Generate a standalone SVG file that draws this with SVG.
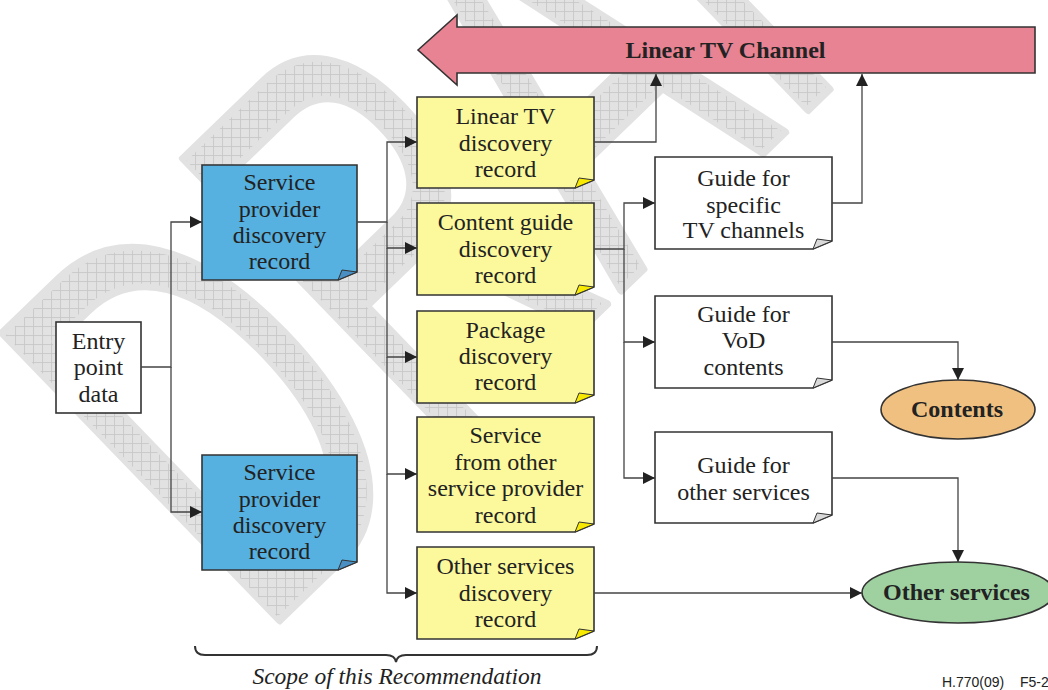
<svg xmlns="http://www.w3.org/2000/svg" width="1048" height="690" viewBox="0 0 1048 690">
<style>
.box{stroke:#333;stroke-width:1.6}
.blue{fill:#56b1e0}
.yel{fill:#fcf99c}
.wht{fill:#fff}
.fb{fill:#4a8fc4;stroke:#333;stroke-width:1}
.fy{fill:#f7ea00;stroke:#333;stroke-width:1}
.fw{fill:#d9d9d9;stroke:#333;stroke-width:1}
.t{font-family:"Liberation Serif","Times New Roman",Times,serif;font-size:24px;fill:#222;text-anchor:middle}
.b{font-weight:bold}
.c{fill:none;stroke:#444;stroke-width:1.3}
</style>
<defs>
<marker id="ah" viewBox="0 0 12 12" refX="12" refY="6" markerWidth="12" markerHeight="12" markerUnits="userSpaceOnUse" orient="auto">
<path d="M0,0 L12,6 L0,12 Z" fill="#222"/>
</marker>
<pattern id="hatch" width="9" height="9" patternUnits="userSpaceOnUse" patternTransform="scale(1.6667 1) rotate(44)">
<rect width="9" height="9" fill="#e2e2e2"/>
<path d="M0,0.5 H9 M0.5,0 V9" stroke="#c6c6c6" stroke-width="0.8"/>
</pattern>
</defs>
<rect width="1048" height="690" fill="#fff"/>
<g id="watermark">
<text transform="translate(258,641) rotate(-44) scale(0.6,1)" font-family="Liberation Sans, Arial, sans-serif" font-size="580" fill="url(#hatch)" stroke="#e2e2e2" stroke-width="8" stroke-linejoin="round">DRAFT</text>
</g>
<g id="linear-tv-channel">
<polygon points="418,50 457,15 457,27 1035,27 1035,73 457,73 457,85" fill="#e88393" stroke="#333" stroke-width="1.6"/>
<text class="t b" x="725.5" y="58">Linear TV Channel</text>
</g>
<g id="entry-point">
<rect class="box wht" x="56" y="322" width="85" height="91"/>
<text class="t" x="98.5" y="349">Entry</text>
<text class="t" x="98.5" y="375">point</text>
<text class="t" x="98.5" y="402">data</text>
</g>
<g id="sp-record-1">
<path class="box blue" d="M202,165 H357 V272 L338,280 H202 Z"/>
<path class="fb" d="M338,280 L342,270 L357,272 Z"/>
<text class="t" x="279.5" y="190">Service</text>
<text class="t" x="279.5" y="217">provider</text>
<text class="t" x="279.5" y="243">discovery</text>
<text class="t" x="279.5" y="269">record</text>
</g>
<g id="sp-record-2">
<path class="box blue" d="M202,455 H357 V562 L338,570 H202 Z"/>
<path class="fb" d="M338,570 L342,560 L357,562 Z"/>
<text class="t" x="279.5" y="480">Service</text>
<text class="t" x="279.5" y="507">provider</text>
<text class="t" x="279.5" y="533">discovery</text>
<text class="t" x="279.5" y="559">record</text>
</g>
<g id="linear-tv-record">
<path class="box yel" d="M417,97 H594 V180 L575,188 H417 Z"/>
<path class="fy" d="M575,188 L579,178 L594,180 Z"/>
<text class="t" x="505.5" y="124">Linear TV</text>
<text class="t" x="505.5" y="151">discovery</text>
<text class="t" x="505.5" y="177">record</text>
</g>
<g id="content-guide-record">
<path class="box yel" d="M417,203 H594 V287 L575,295 H417 Z"/>
<path class="fy" d="M575,295 L579,285 L594,287 Z"/>
<text class="t" x="505.5" y="230">Content guide</text>
<text class="t" x="505.5" y="257">discovery</text>
<text class="t" x="505.5" y="283">record</text>
</g>
<g id="package-record">
<path class="box yel" d="M417,311 H594 V395 L575,403 H417 Z"/>
<path class="fy" d="M575,403 L579,393 L594,395 Z"/>
<text class="t" x="505.5" y="338">Package</text>
<text class="t" x="505.5" y="364">discovery</text>
<text class="t" x="505.5" y="390">record</text>
</g>
<g id="other-sp-record">
<path class="box yel" d="M417,417 H594 V524 L575,532 H417 Z"/>
<path class="fy" d="M575,532 L579,522 L594,524 Z"/>
<text class="t" x="505.5" y="443">Service</text>
<text class="t" x="505.5" y="470">from other</text>
<text class="t" x="505.5" y="496">service provider</text>
<text class="t" x="505.5" y="523">record</text>
</g>
<g id="other-services-record">
<path class="box yel" d="M417,547 H594 V631 L575,639 H417 Z"/>
<path class="fy" d="M575,639 L579,629 L594,631 Z"/>
<text class="t" x="505.5" y="574">Other services</text>
<text class="t" x="505.5" y="601">discovery</text>
<text class="t" x="505.5" y="627">record</text>
</g>
<g id="guide-tv">
<path class="box wht" d="M655,157 H832 V241 L813,249 H655 Z"/>
<path class="fw" d="M813,249 L817,239 L832,241 Z"/>
<text class="t" x="743.5" y="186">Guide for</text>
<text class="t" x="743.5" y="213">specific</text>
<text class="t" x="743.5" y="238">TV channels</text>
</g>
<g id="guide-vod">
<path class="box wht" d="M655,296 H832 V380 L813,388 H655 Z"/>
<path class="fw" d="M813,388 L817,378 L832,380 Z"/>
<text class="t" x="743.5" y="322">Guide for</text>
<text class="t" x="743.5" y="348">VoD</text>
<text class="t" x="743.5" y="375">contents</text>
</g>
<g id="guide-other">
<path class="box wht" d="M655,432 H832 V515 L813,523 H655 Z"/>
<path class="fw" d="M813,523 L817,513 L832,515 Z"/>
<text class="t" x="743.5" y="473">Guide for</text>
<text class="t" x="743.5" y="500">other services</text>
</g>
<g id="contents">
<ellipse cx="958" cy="409.5" rx="77" ry="29.5" fill="#f0c080" stroke="#333" stroke-width="1.6"/>
<text class="t b" x="957" y="417">Contents</text>
</g>
<g id="other-services">
<ellipse cx="958" cy="592.5" rx="96" ry="30.5" fill="#9ed0a0" stroke="#333" stroke-width="1.6"/>
<text class="t b" x="956.5" y="600">Other services</text>
</g>
<g id="connectors">
<path class="c" d="M141,367 H171 V222 H202" marker-end="url(#ah)"/>
<path class="c" d="M171,367 V512 H202" marker-end="url(#ah)"/>
<path class="c" d="M357,222 H387 V142 H417" marker-end="url(#ah)"/>
<path class="c" d="M387,222 V248 H417" marker-end="url(#ah)"/>
<path class="c" d="M387,248 V357 H417" marker-end="url(#ah)"/>
<path class="c" d="M387,357 V474 H417" marker-end="url(#ah)"/>
<path class="c" d="M387,474 V593 H417" marker-end="url(#ah)"/>
<path class="c" d="M594,142 H656 V74" marker-end="url(#ah)"/>
<path class="c" d="M594,249 H624 V203 H655" marker-end="url(#ah)"/>
<path class="c" d="M624,249 V342 H655" marker-end="url(#ah)"/>
<path class="c" d="M624,342 V478 H655" marker-end="url(#ah)"/>
<path class="c" d="M832,203 H862 V74" marker-end="url(#ah)"/>
<path class="c" d="M832,342 H958 V380" marker-end="url(#ah)"/>
<path class="c" d="M832,478 H958 V562" marker-end="url(#ah)"/>
<path class="c" d="M594,593 H862" marker-end="url(#ah)"/>
</g>
<g id="scope">
<path d="M195,646 Q195,655 205,655 H386 Q395,655 396,662 Q397,655 406,655 H587 Q597,655 597,646" fill="none" stroke="#333" stroke-width="2"/>
<text x="397" y="684" font-family="Liberation Serif, Times New Roman, serif" font-size="23.5" font-style="italic" fill="#222" text-anchor="middle">Scope of this Recommendation</text>
</g>
<text x="942" y="687" font-family="Liberation Sans, Arial, sans-serif" font-size="14" fill="#222"><tspan>H.770(09)</tspan><tspan x="1020">F5-2</tspan></text>
</svg>
